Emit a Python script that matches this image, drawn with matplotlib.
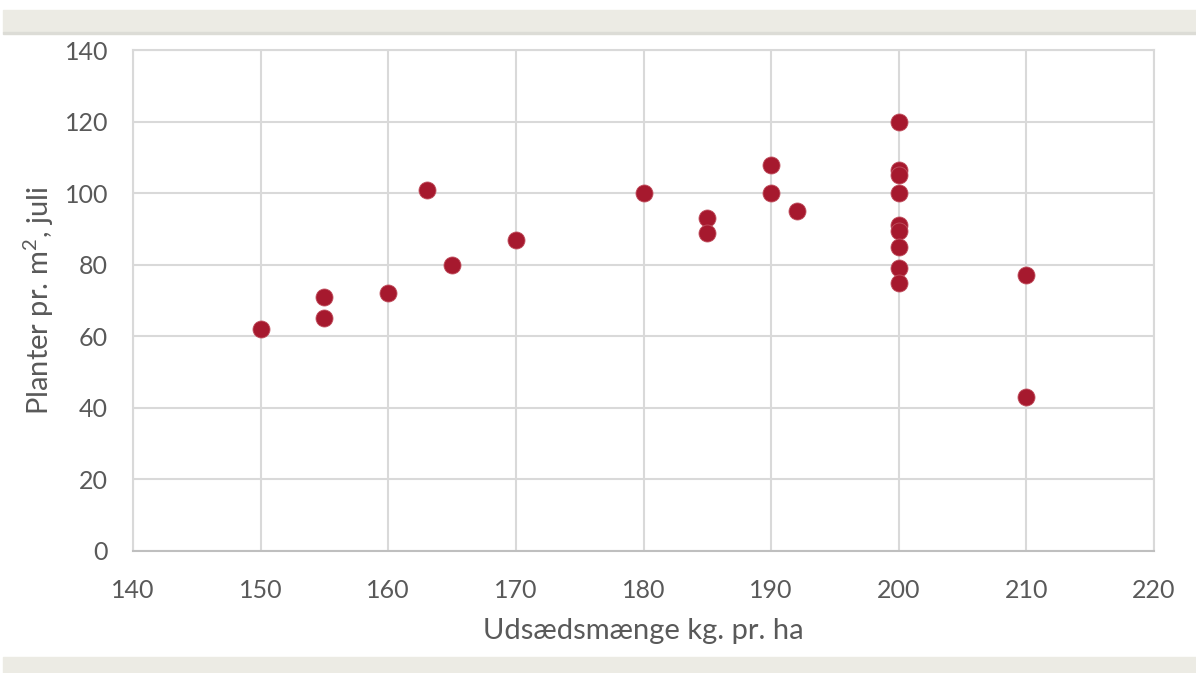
import matplotlib
matplotlib.use("Agg")
import matplotlib.pyplot as plt
from matplotlib.patches import Rectangle

x_vals = [150, 155, 155, 160, 163, 165, 170, 180, 185, 185, 190, 190, 192,
          200, 200, 200, 200, 200, 200, 200, 200, 200, 210, 210]
y_vals = [62, 71, 65, 72, 101, 80, 87, 100, 93, 89, 108, 100, 95,
          120, 106.5, 105, 100, 91, 89.5, 85, 79, 75, 77, 43]
x_ticks = [140, 150, 160, 170, 180, 190, 200, 210, 220]
y_ticks = [0, 20, 40, 60, 80, 100, 120, 140]

plt.rcParams['font.family'] = ['Lato', 'DejaVu Sans']
plt.rcParams['mathtext.fontset'] = 'custom'
plt.rcParams['mathtext.rm'] = 'Lato'
txt = '#595959'

fig = plt.figure(figsize=(11.96, 6.73), dpi=100)
W, H = 1196, 673
# gray bands
fig.patches.append(Rectangle((3/W, 1 - 32/H), 1, 22/H, transform=fig.transFigure,
                             color='#ECEBE4', zorder=0))
fig.patches.append(Rectangle((3/W, 1 - 34/H), 1, 2/H, transform=fig.transFigure,
                             color='#DCDCD6', zorder=0))
fig.patches.append(Rectangle((3/W, 0), 1, 16/H, transform=fig.transFigure,
                             color='#ECEBE4', zorder=0))

ax = fig.add_axes([133/W, 1 - 551/H, (1154 - 133)/W, (551 - 50)/H])
ax.scatter(x_vals, y_vals, s=150, color='#A6192E', edgecolor='#C0505F',
           linewidth=0.6, zorder=3)
ax.set_xlim(140, 220)
ax.set_ylim(0, 140)
ax.set_xticks(x_ticks)
ax.set_yticks(y_ticks)
ax.grid(True, color='#D9D9D9', linewidth=1.5, zorder=0)
ax.set_axisbelow(True)
for s in ['top', 'right', 'left']:
    ax.spines[s].set_color('#D9D9D9')
    ax.spines[s].set_linewidth(1.5)
ax.spines['bottom'].set_color('#BFBFBF')
ax.spines['bottom'].set_linewidth(1.5)
ax.tick_params(length=0, labelsize=18, labelcolor=txt)
ax.tick_params(axis='y', pad=18)
ax.tick_params(axis='x', pad=20)
ax.set_xlabel('Udsædsmænge kg. pr. ha', fontsize=21, color=txt, labelpad=12)
ax.set_ylabel(r'Planter pr. $\mathregular{m^2}$, juli', fontsize=21, color=txt,
              labelpad=6)

fig.savefig('out.png', dpi=100)
